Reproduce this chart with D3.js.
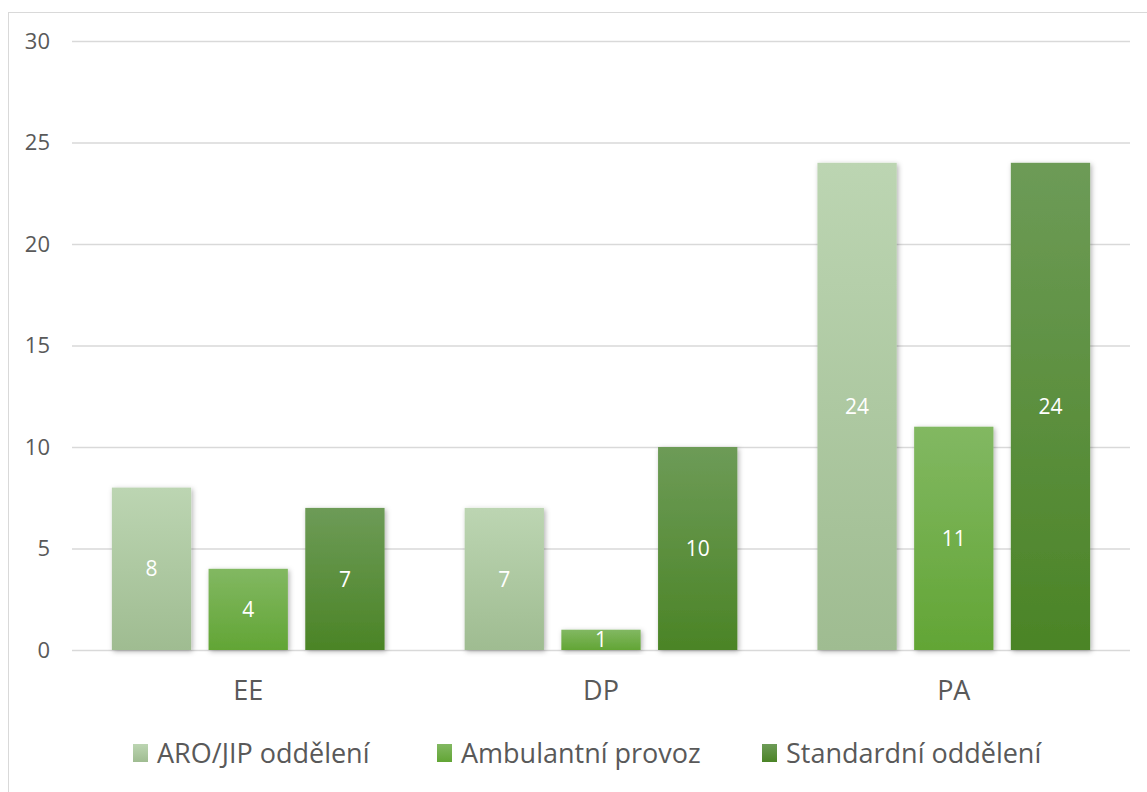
<!DOCTYPE html>
<html>
<head>
<meta charset="utf-8">
<script src="https://cdn.jsdelivr.net/npm/d3@7"></script>
<style>
  html, body { margin: 0; padding: 0; background: #fff; }
  svg { display: block; }
</style>
</head>
<body>
<div id="chart"></div>
<script>
// Data
const categories = ["EE", "DP", "PA"];
const seriesNames = ["ARO/JIP oddělení", "Ambulantní provoz", "Standardní oddělení"];
const aroValues = [8, 7, 24];
const ambValues = [4, 1, 11];
const stdValues = [7, 10, 24];
const yTicks = [0, 5, 10, 15, 20, 25, 30];

const seriesValues = [aroValues, ambValues, stdValues];
const seriesColors = [
  { top: "#bcd5b2", bottom: "#9fbc91" },
  { top: "#82b862", bottom: "#62a535" },
  { top: "#6d9b57", bottom: "#4b8426" }
];

const W = 1147, H = 792;
const margin = { left: 72, right: 17, top: 41, bottom: 142 };
const fontFamily = "'Open Sans', 'Noto Sans', sans-serif";

const svg = d3.select("#chart").append("svg")
  .attr("width", W).attr("height", H);

const defs = svg.append("defs");
seriesColors.forEach((c, i) => {
  const g = defs.append("linearGradient")
    .attr("id", "grad" + i)
    .attr("x1", 0).attr("y1", 0).attr("x2", 0).attr("y2", 1);
  g.append("stop").attr("offset", "0%").attr("stop-color", c.top);
  g.append("stop").attr("offset", "100%").attr("stop-color", c.bottom);
});
const shadow = defs.append("filter").attr("id", "shadow")
  .attr("x", "-20%").attr("y", "-20%").attr("width", "140%").attr("height", "140%");
shadow.append("feDropShadow")
  .attr("dx", 1.5).attr("dy", 1.5).attr("stdDeviation", 2.5)
  .attr("flood-color", "#000").attr("flood-opacity", 0.3);

// Outer frame
svg.append("rect")
  .attr("x", 8.5).attr("y", 12.5)
  .attr("width", W - 8).attr("height", H - 12)
  .attr("fill", "none").attr("stroke", "#d9d9d9").attr("stroke-width", 1);

const x0 = d3.scaleBand()
  .domain(categories)
  .range([margin.left, W - margin.right])
  .paddingInner(0.227).paddingOuter(0.113);

const x1 = d3.scaleBand()
  .domain(d3.range(seriesNames.length))
  .range([0, x0.bandwidth()])
  .paddingInner(0.18);

const y = d3.scaleLinear()
  .domain([0, 30])
  .range([H - margin.bottom, margin.top]);

// Gridlines
const grid = svg.append("g")
  .call(d3.axisLeft(y).tickValues(yTicks).tickSize(-(W - margin.right - margin.left)).tickFormat(""))
  .attr("transform", `translate(${margin.left},0)`);
grid.select(".domain").remove();
grid.selectAll("line").attr("stroke", "#d9d9d9").attr("stroke-width", 1.3);

// Y tick labels
const yAxis = svg.append("g")
  .attr("transform", `translate(${margin.left - 22},0)`)
  .call(d3.axisLeft(y).tickValues(yTicks).tickSize(0).tickPadding(0));
yAxis.select(".domain").remove();
yAxis.selectAll("text")
  .attr("fill", "#595959")
  .style("font-family", fontFamily)
  .style("font-size", "22px");

// Bars
const groups = svg.append("g").selectAll("g")
  .data(categories)
  .join("g")
  .attr("transform", d => `translate(${x0(d)},0)`);

groups.each(function(cat, ci) {
  const g = d3.select(this);
  seriesValues.forEach((vals, si) => {
    const v = vals[ci];
    g.append("rect")
      .attr("x", x1(si))
      .attr("y", y(v))
      .attr("width", x1.bandwidth())
      .attr("height", y(0) - y(v))
      .attr("fill", `url(#grad${si})`)
      .attr("filter", "url(#shadow)");
  });
  seriesValues.forEach((vals, si) => {
    const v = vals[ci];
    g.append("text")
      .attr("x", x1(si) + x1.bandwidth() / 2)
      .attr("y", (y(v) + y(0)) / 2)
      .attr("dy", "0.36em")
      .attr("text-anchor", "middle")
      .attr("fill", "#ffffff")
      .style("font-family", fontFamily)
      .style("font-size", "21px")
      .text(v);
  });
});

// Category axis labels
const xAxis = svg.append("g")
  .attr("transform", `translate(0,${y(0)})`)
  .call(d3.axisBottom(x0).tickSize(0).tickPadding(0));
xAxis.select(".domain").remove();
xAxis.selectAll("text")
  .attr("y", 40)
  .attr("dy", "0.36em")
  .attr("fill", "#595959")
  .style("font-family", fontFamily)
  .style("font-size", "27px");

// Legend
const legendY = 753;
const legendItems = [
  { x: 133, name: seriesNames[0] },
  { x: 437, name: seriesNames[1] },
  { x: 762, name: seriesNames[2] }
];
const legend = svg.append("g");
legendItems.forEach((item, i) => {
  legend.append("rect")
    .attr("x", item.x).attr("y", legendY - 9)
    .attr("width", 15).attr("height", 18)
    .attr("fill", `url(#grad${i})`);
  legend.append("text")
    .attr("x", item.x + 24).attr("y", legendY)
    .attr("dy", "0.36em")
    .attr("fill", "#595959")
    .style("font-family", fontFamily)
    .style("font-size", "27px")
    .text(item.name);
});
</script>
</body>
</html>
